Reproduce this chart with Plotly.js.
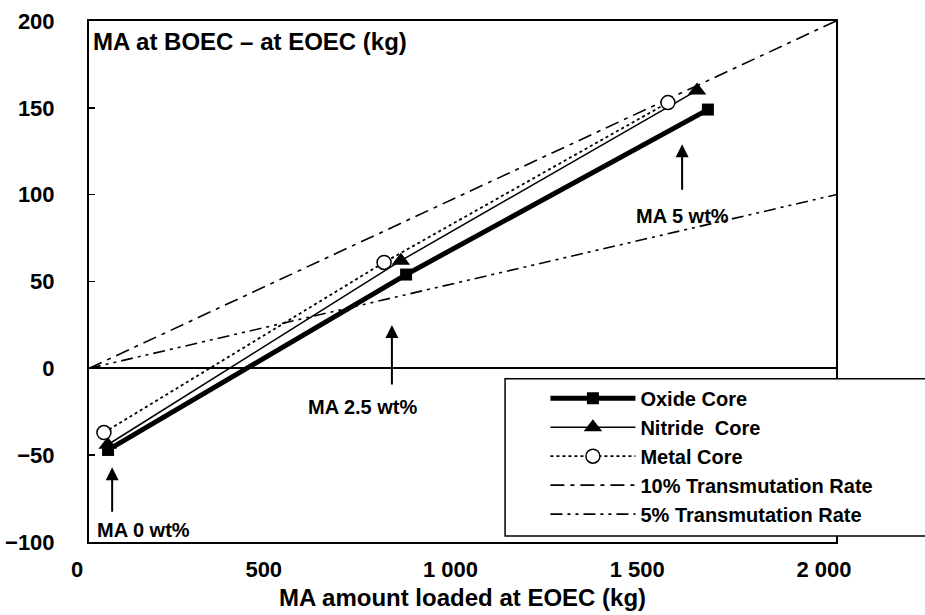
<!DOCTYPE html>
<html><head><meta charset="utf-8">
<script src="https://cdn.plot.ly/plotly-3.0.1.min.js"></script>
<style>html,body{margin:0;padding:0;background:#fff}#chart{width:925px;height:615px}</style>
</head><body><div id="chart"></div>
<script>
// ---- data ----
const oxideX = [51, 849, 1657];
const oxideY = [-47, 54, 149];
const nitrideX = [50, 835, 1628];
const nitrideY = [-44, 62, 160];
const metalX = [40, 790, 1550];
const metalY = [-37, 61, 153];
const rate10X = [0, 2000];
const rate10Y = [0, 200];
const rate5X = [0, 2000];
const rate5Y = [0, 100];
const seriesNames = ['Oxide Core', 'Nitride\u00a0 Core', 'Metal Core', '10% Transmutation Rate', '5% Transmutation Rate'];
const xTickVals = [0, 500, 1000, 1500, 2000];
const xTickText = ['0', '500', '1 000', '1 500', '2 000'];
const yTickVals = [-100, -50, 0, 50, 100, 150, 200];
const noteText = ['MA 0 wt%', 'MA 2.5 wt%', 'MA 5 wt%'];
const arrowTipX = [62, 811, 1588];
const arrowTipY = [-57, 25, 129];
const arrowLen = [46, 61, 47];
const noteX = [145, 731, 1588];
const noteY = [-93, -22, 88];
const yTitle = 'MA at BOEC \u2013 at EOEC (kg)';
const xTitle = 'MA amount loaded at EOEC (kg)';

const F = 'Liberation Sans, Arial, sans-serif';
const black = '#000';

const traces = [
  {x: rate10X, y: rate10Y, name: seriesNames[3], legendrank: 4, mode: 'lines',
   line: {color: black, width: 1.6, dash: '14px,6px,4px,6px'}},
  {x: rate5X, y: rate5Y, name: seriesNames[4], legendrank: 5, mode: 'lines',
   line: {color: black, width: 1.6, dash: '12px,5px,3px,5px,3px,5px'}},
  {x: oxideX, y: oxideY, name: seriesNames[0], legendrank: 1, mode: 'lines+markers',
   line: {color: black, width: 5}, marker: {symbol: 'square', size: 12, color: black}},
  {x: nitrideX, y: nitrideY, name: seriesNames[1], legendrank: 2, mode: 'lines+markers',
   line: {color: black, width: 1.5}, marker: {symbol: 'triangle-up', size: 16, color: black}},
  {x: metalX, y: metalY, name: seriesNames[2], legendrank: 3, mode: 'lines+markers',
   line: {color: black, width: 1.8, dash: '3px,3px'},
   marker: {symbol: 'circle', size: 14, color: '#fff', line: {color: black, width: 1.5}}}
];

const annotations = [];
for (let i = 0; i < noteText.length; i++) {
  annotations.push({x: arrowTipX[i], y: arrowTipY[i], xref: 'x', yref: 'y', text: '',
    showarrow: true, ax: 0, ay: arrowLen[i], arrowhead: 2, arrowsize: 1.3, arrowwidth: 2, arrowcolor: black});
  annotations.push({x: noteX[i], y: noteY[i], xref: 'x', yref: 'y', text: noteText[i],
    showarrow: false, font: {family: F, size: 20, weight: 'bold', color: black}});
}
annotations.push({x: 0, y: 0.9616, xref: 'paper', yref: 'paper', xanchor: 'left', yanchor: 'middle',
  xshift: 2, text: yTitle, showarrow: false, font: {family: F, size: 24, weight: 'bold', color: black}});

const layout = {
  width: 925, height: 615,
  margin: {l: 89, r: 89, t: 21, b: 73},
  paper_bgcolor: '#fff', plot_bgcolor: '#fff',
  showlegend: true,
  font: {family: F, color: black},
  xaxis: {
    range: [0, 2000], tickvals: xTickVals, ticktext: xTickText, ticks: '',
    showgrid: false, zeroline: false, showline: true, mirror: true, linecolor: black, linewidth: 2,
    tickfont: {family: F, size: 22, weight: 'bold', color: black}, ticklabelstandoff: 7, ticklabelshift: -12,
    title: {text: xTitle, font: {family: F, size: 24, weight: 'bold', color: black}, standoff: 8},
    automargin: false
  },
  yaxis: {
    range: [-100, 200], tickvals: yTickVals, ticks: 'inside', ticklen: 6, tickwidth: 1.5, tickcolor: black,
    showgrid: false, zeroline: true, zerolinecolor: black, zerolinewidth: 2,
    showline: true, mirror: true, linecolor: black, linewidth: 2,
    tickfont: {family: F, size: 22, weight: 'bold', color: black}, ticklabelstandoff: 28,
    automargin: false
  },
  legend: {x: 0.611, y: 0.3135, xanchor: 'left', yanchor: 'top', bgcolor: 'rgba(0,0,0,0)', borderwidth: 0,
    itemwidth: 85, font: {family: F, size: 20, weight: 'bold', color: black}, traceorder: 'normal'},
  shapes: [{type: 'rect', xref: 'paper', yref: 'paper', x0: 0.557, x1: 1.2, y0: 0.0115, y1: 0.3135,
    layer: 'above', fillcolor: '#fff', line: {color: black, width: 1.5}}],
  annotations: annotations
};

Plotly.newPlot('chart', traces, layout, {displayModeBar: false, staticPlot: true});
</script></body></html>
